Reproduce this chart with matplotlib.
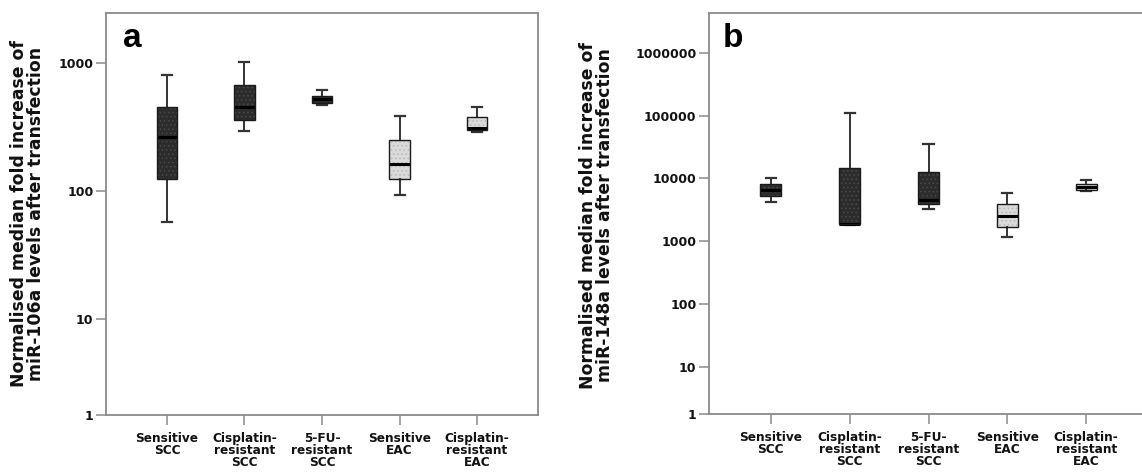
import numpy as np
import matplotlib
matplotlib.use("Agg")
import matplotlib.pyplot as plt
from matplotlib.ticker import FixedLocator, FuncFormatter

# ---------------- data ----------------
categories = ["Sensitive\nSCC", "Cisplatin-\nresistant\nSCC", "5-FU-\nresistant\nSCC",
              "Sensitive\nEAC", "Cisplatin-\nresistant\nEAC"]
box_tone = ["dark", "dark", "dark", "light", "light"]

# panel a: miR-106a
a_whislo = [57, 292, 464, 92, 285]
a_q1     = [124, 359, 486, 123, 297]
a_med    = [263, 448, 516, 163, 310]
a_q3     = [453, 671, 553, 248, 374]
a_whishi = [800, 1020, 615, 383, 448]
a_ticks  = [1, 10, 100, 1000]

# panel b: miR-148a
b_whislo = [4190, 1800, 3290, 1180, 6240]
b_q1     = [5210, 1860, 3850, 1710, 6480]
b_med    = [6640, 1910, 4610, 2520, 7310]
b_q3     = [8150, 14700, 12600, 3900, 8050]
b_whishi = [10000, 111000, 35200, 5940, 9530]
b_ticks  = [1, 10, 100, 1000, 10000, 100000, 1000000]

ylabel_a = "Normalised median fold increase of\nmiR-106a levels after transfection"
ylabel_b = "Normalised median fold increase of\nmiR-148a levels after transfection"

# ---------------- scale (SPSS-like log axis, compressed lowest decade) ----------------
LOWC = 0.75

def fwd(y):
    y = np.clip(np.asarray(y, dtype=float), 1e-3, None)
    l = np.log10(y)
    return np.where(l >= 1, l, 1 + LOWC * (l - 1))

def inv(f):
    f = np.asarray(f, dtype=float)
    return np.where(f >= 1, 10 ** f, 10 ** ((f - 1) / LOWC + 1))

FILL = {"dark": "#2c2c2c", "light": "#dadada"}
HATCHC = {"dark": "#4a4a4a", "light": "#b8b8b8"}
SPINE = "#8a8a8a"
FONT = "DejaVu Sans"
plt.rcParams["hatch.linewidth"] = 0.6

fig = plt.figure(figsize=(11.42, 4.73), dpi=100)
ax_a = fig.add_axes([106 / 1142, 1 - 415 / 473, 432 / 1142, 402 / 473])
ax_b = fig.add_axes([709 / 1142, 1 - 414 / 473, 439 / 1142, 401 / 473])


def draw(ax, lo, q1, med, q3, hi, ticks, ytop, ylabel, letter, lab_x, lab_y, let_x):
    stats = []
    for i in range(len(categories)):
        stats.append(dict(med=med[i], q1=q1[i], q3=q3[i], whislo=lo[i], whishi=hi[i], fliers=[]))
    pos = np.arange(len(categories))
    bp = ax.bxp(stats, positions=pos, widths=0.265, patch_artist=True, showfliers=False,
                capwidths=0.13,
                boxprops=dict(edgecolor="#1a1a1a", linewidth=1.0),
                whiskerprops=dict(color="#333333", linewidth=1.4),
                capprops=dict(color="#333333", linewidth=1.6),
                medianprops=dict(color="black", linewidth=2.2))
    for patch, tone in zip(bp["boxes"], box_tone):
        patch.set_facecolor(FILL[tone])
        patch.set_edgecolor(HATCHC[tone])
        patch.set_hatch("....")
        patch.set_linewidth(0)
        # separate outline drawn on top
        outline = plt.Polygon(patch.get_path().vertices, closed=True, fill=False,
                              edgecolor="#1a1a1a", linewidth=1.0,
                              transform=patch.get_transform(), zorder=patch.get_zorder() + 0.1)
        ax.add_patch(outline)
    ax.set_yscale("function", functions=(fwd, inv))
    ax.set_ylim(1, ytop)
    ax.set_xlim(-0.785, len(categories) - 1 + 0.785)
    ax.yaxis.set_major_locator(FixedLocator(ticks))
    ax.yaxis.set_minor_locator(FixedLocator([]))
    ax.yaxis.set_major_formatter(FuncFormatter(lambda v, p: f"{int(round(v))}"))
    ax.set_xticks(pos)
    ax.set_xticklabels(categories, fontsize=8.7, fontweight="bold", family=FONT,
                       linespacing=0.92, color="#111111")
    for lab in ax.get_yticklabels():
        lab.set_fontsize(9)
        lab.set_fontweight("bold")
        lab.set_family(FONT)
        lab.set_color("#111111")
    ax.tick_params(axis="both", direction="out", length=7, width=1.1, color=SPINE)
    ax.tick_params(axis="y", pad=2)
    ax.tick_params(axis="x", pad=5)
    for s in ax.spines.values():
        s.set_color(SPINE)
        s.set_linewidth(1.3)
    ax.set_ylabel(ylabel, fontsize=12.4, fontweight="bold", family=FONT,
                  linespacing=0.92, color="#111111")
    ax.yaxis.set_label_coords(lab_x, lab_y)
    ax.text(let_x, 0.915, letter, transform=ax.transAxes, fontsize=24,
            fontweight="bold", family="Liberation Sans", va="baseline", ha="left")


draw(ax_a, a_whislo, a_q1, a_med, a_q3, a_whishi, a_ticks, 2440, ylabel_a, "a",
     -0.141, 0.50, 0.039)
draw(ax_b, b_whislo, b_q1, b_med, b_q3, b_whishi, b_ticks, 4.3e6, ylabel_b, "b",
     -0.216, 0.496, 0.032)

fig.savefig("out.png", dpi=100)
